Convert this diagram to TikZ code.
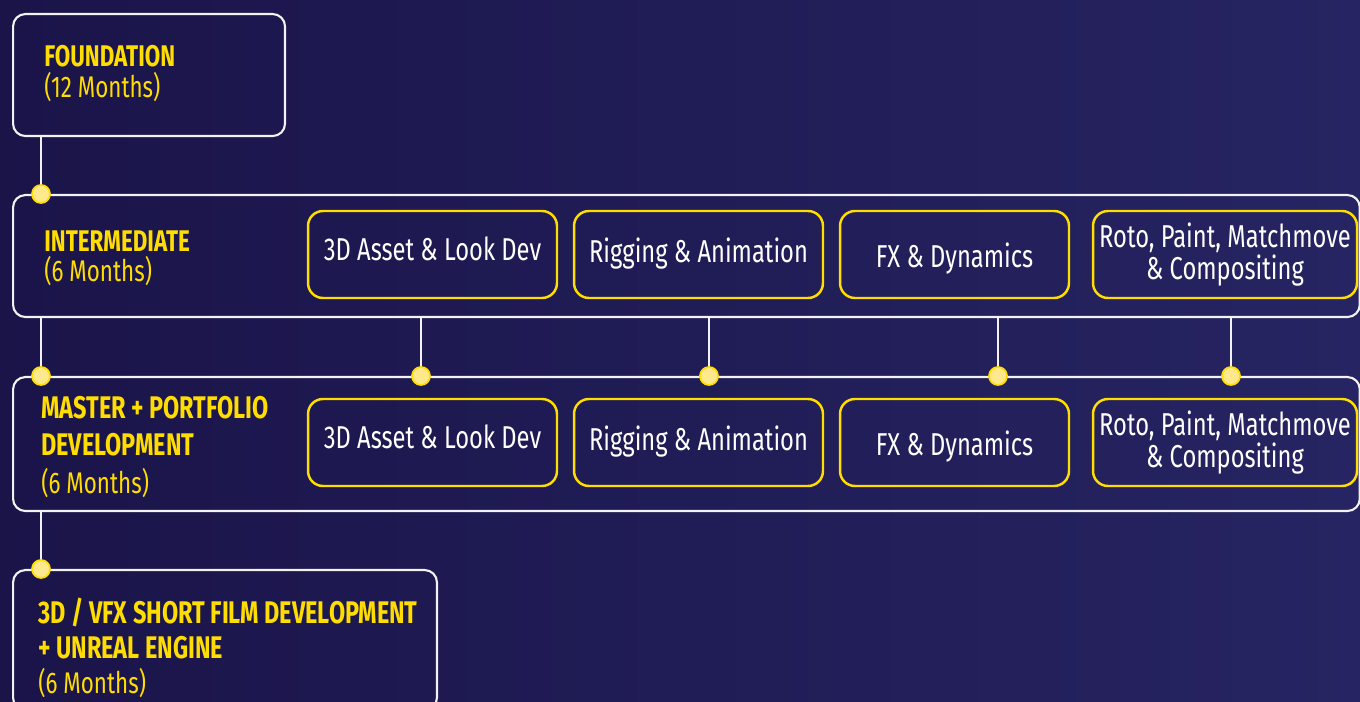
\documentclass[tikz,border=0pt]{standalone}
\usepackage{fontspec}
\setmainfont{Fira Sans}[FakeStretch=0.75]
\usetikzlibrary{positioning}
\definecolor{navy}{HTML}{1A1449}
\definecolor{navyhi}{HTML}{262462}
\definecolor{gold}{HTML}{FFDD00}
\definecolor{dotfill}{HTML}{FFE98C}
\definecolor{linewhite}{HTML}{F2F2F2}
\begin{document}
\begin{tikzpicture}[x=0.02cm,y=-0.02cm,
    stage/.style={draw=linewhite,line width=1.2pt,rounded corners=7pt,anchor=north west,inner sep=0pt},
    track/.style={draw=gold,line width=1.4pt,rounded corners=8.5pt,text=white,align=center,
      font=\fontsize{18}{18}\selectfont,inner sep=0pt,minimum height=1.74cm},
    trk asset/.style={text height=13.7pt,text depth=6.3pt},
    trk rig/.style={text height=14.3pt,text depth=5.7pt},
    trk fx/.style={text height=17.2pt,text depth=2.8pt},
    trk roto/.style={},
    title/.style={anchor=north west,align=left,inner sep=0pt,text=gold},
    wire/.style={linewhite,line width=1.2pt},
    joint/.style={circle,fill=dotfill,draw=gold,line width=1pt,minimum size=0.36cm,inner sep=0pt}]
    \clip (0,0) rectangle (1360,702);
    \shade[left color=navy,right color=navyhi] (0,0) rectangle (1360,702);
    % stages
    \node[stage,minimum width=5.44cm,minimum height=2.44cm] (found) at (12,13) {};
    \node[stage,minimum width=26.94cm,minimum height=2.44cm] (inter) at (12,194) {};
    \node[stage,minimum width=26.94cm,minimum height=2.68cm] (master) at (12,376) {};
    \node[stage,minimum width=8.48cm,minimum height=2.8cm] (film) at (12,569) {};
    \node[title,font=\fontsize{17}{17.6}\selectfont] (foundtxt) at (44,45) {\textbf{FOUNDATION}\\(12 Months)};
    \node[title,font=\fontsize{17}{17.6}\selectfont] (intertxt) at (44,230) {\textbf{INTERMEDIATE}\\(6 Months)};
    \node[title,font=\fontsize{17.8}{21.3}\selectfont] (mastertxt) at (41,396)
        {\textbf{MASTER + PORTFOLIO}\\\textbf{DEVELOPMENT}\\{\fontsize{17}{21.3}\selectfont(6 Months)}};
    \node[title,font=\fontsize{17.8}{19.9}\selectfont] (filmtxt) at (38,598)
        {\textbf{3D / VFX SHORT FILM DEVELOPMENT}\\\textbf{+ UNREAL ENGINE}\\{\fontsize{17}{19.9}\selectfont(6 Months)}};
    % tracks
    \foreach \r/\cy in {1/254.5,2/442.5}
        \foreach \n/\cx/\w/\txt in {asset/432.5/4.98/{3D Asset \& Look Dev},rig/698.5/4.98/{Rigging \& Animation},
            fx/954.5/4.58/{FX \& Dynamics},roto/1225/5.28/{Roto, Paint, Matchmove\\\& Compositing}}
            \node[track,trk \n,minimum width=\w cm] (\n\r) at (\cx,\cy) {\txt};
    % joints
    \coordinate (pInter) at (41,194);
    \coordinate (pMaster) at (41,376);
    \coordinate (pFilm) at (41,569);
    \foreach \k/\x in {1/421,2/709,3/998,4/1231}
        \coordinate (k\k) at (\x,376);
    \draw[wire] (found.south -| pInter) -- (pInter);
    \draw[wire] (inter.south -| pMaster) -- (pMaster);
    \draw[wire] (master.south -| pFilm) -- (pFilm);
    \foreach \k in {1,...,4}
        \draw[wire] (inter.south -| k\k) -- (k\k);
    \foreach \p in {pInter,pMaster,pFilm,k1,k2,k3,k4}
        \node[joint] (dot\p) at (\p) {};
\end{tikzpicture}
\end{document}
